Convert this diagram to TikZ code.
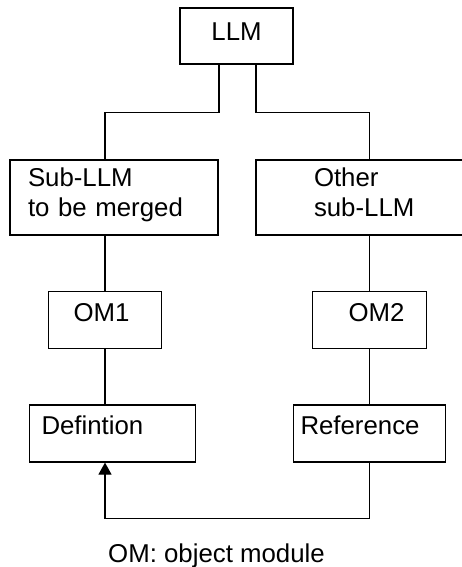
\documentclass[tikz,border=0pt]{standalone}
\usepackage{fontspec}
\setmainfont{Liberation Sans}
\usetikzlibrary{arrows.meta}

\begin{document}
\begin{tikzpicture}[x=1pt,y=-1pt,line width=1.2pt,
    font=\fontsize{25.8}{29.5}\selectfont,
    block/.style={draw,rectangle,inner ysep=0pt,text height=19pt},
    link/.style={-{Triangle[length=12pt,width=13pt]}}]
\path[use as bounding box,clip] (0,0) rectangle (462,567);

\node[block,minimum width=113pt,minimum height=56pt,text width=93pt,inner xsep=10pt,align=center,text depth=9pt] (llm) at (236.5,36) {LLM};
\node[block,minimum width=208pt,minimum height=75pt,text width=172pt,inner xsep=18pt,align=left,text depth=40.6pt] (sub) at (114,197.5) {Sub-LLM\\to be merged};
\node[block,minimum width=226pt,minimum height=75pt,text width=110pt,inner xsep=58pt,align=left,text depth=40.6pt] (oth) at (369,197.5) {Other\\sub-LLM};
\node[block,minimum width=113pt,minimum height=57pt,text width=63pt,inner xsep=25pt,align=left,text depth=15pt] (om1) at (105,319.7) {OM1};
\node[block,minimum width=114pt,minimum height=57pt,text width=70pt,inner xsep=22pt,align=right,text depth=17pt] (om2) at (369.5,320) {OM2};
\node[block,minimum width=166pt,minimum height=57pt,text width=142pt,inner xsep=12pt,align=left,text depth=18pt] (def) at (112.5,433.5) {Defintion};
\node[block,minimum width=152pt,minimum height=57pt,text width=138pt,inner xsep=7pt,align=left,text depth=18pt] (ref) at (369.5,433.5) {Reference};
\node[anchor=base] (note) at (216.5,562) {OM: object module};

\draw ([xshift=-17.5pt]llm.south) -- ++(0,48) -| (om1.north |- sub.north);
\draw ([xshift=19.5pt]llm.south) -- ++(0,48) -| (om2.north |- oth.north);
\draw (om1.north |- sub.south) -- (om1.north);
\draw (om1.south) -- (om1.south |- def.north);
\draw (om2.north |- oth.south) -- (om2.north);
\draw (om2.south) -- (ref.north);
\draw[link] (ref.south) -- ++(0,56) -| (om1.south |- def.south);
\end{tikzpicture}
\end{document}
